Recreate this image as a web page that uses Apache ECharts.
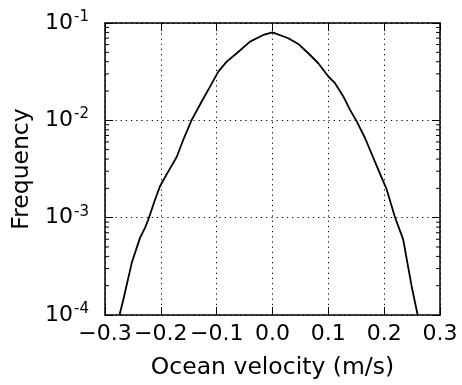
<!DOCTYPE html>
<html><head><meta charset="utf-8">
<script src="https://cdn.jsdelivr.net/npm/echarts@6/dist/echarts.min.js"></script>
<style>html,body{margin:0;padding:0;background:#fff}#c{width:462px;height:385px}</style>
</head><body><div id="c"></div>
<script>
const velocity = [-0.274, -0.267, -0.252, -0.2373, -0.2284, -0.2224, -0.2104, -0.2015, -0.1866, -0.1716, -0.1598, -0.1447, -0.1268, -0.1119, -0.0971, -0.082, -0.0641, -0.0403, -0.0165, 0.0, 0.0283, 0.0462, 0.0641, 0.082, 0.100, 0.112, 0.1268, 0.1389, 0.1508, 0.1657, 0.1866, 0.2045, 0.2194, 0.234, 0.249, 0.260];
const frequency = [1.0e-4, 1.45e-4, 3.45e-4, 6.2e-4, 7.87e-4, 9.57e-4, 1.53e-3, 2.1e-3, 2.99e-3, 4.2e-3, 6.32e-3, 1.01e-2, 1.56e-2, 2.22e-2, 3.17e-2, 4.01e-2, 4.89e-2, 6.43e-2, 7.53e-2, 8.0e-2, 6.97e-2, 6.09e-2, 4.89e-2, 3.86e-2, 2.82e-2, 2.41e-2, 1.76e-2, 1.28e-2, 9.75e-3, 6.58e-3, 3.4e-3, 1.95e-3, 1.01e-3, 5.98e-4, 2.0e-4, 1.0e-4];
const xTicks = [-0.3, -0.2, -0.1, 0.0, 0.1, 0.2, 0.3];
const yDecades = [1e-4, 1e-3, 1e-2, 1e-1];
const minorMult = [2, 3, 4, 5, 6, 7, 8, 9];
const minorTicks = [];
yDecades.slice(0, 3).forEach(d => minorMult.forEach(m => minorTicks.push(m * d)));

const FONT = 'DejaVu Sans';
const chart = echarts.init(document.getElementById('c'));
const gridLine = { show: true, lineStyle: { color: '#000', width: 1, type: [1.2, 4] } };
const axLine = { show: true, onZero: false, lineStyle: { color: '#000', width: 1.5 } };
const majTick = { show: true, inside: true, length: 8, lineStyle: { color: '#000', width: 1 } };

chart.setOption({
  animation: false,
  grid: { left: 105, right: 22, top: 23, bottom: 69 },
  xAxis: [{
    type: 'value', min: xTicks[0], max: xTicks[xTicks.length - 1], interval: 0.1,
    position: 'bottom',
    axisLine: axLine, axisTick: majTick, splitLine: gridLine,
    axisLabel: { color: '#000', fontFamily: FONT, fontSize: 22, margin: 8,
      formatter: v => (v < -1e-9 ? '\u2212' : '') + Math.abs(v).toFixed(1) },
    name: 'Ocean velocity (m/s)', nameLocation: 'middle', nameGap: 41,
    nameTextStyle: { color: '#000', fontFamily: FONT, fontSize: 23.5 }
  }, {
    type: 'value', min: xTicks[0], max: xTicks[xTicks.length - 1], interval: 0.1,
    position: 'top',
    axisLine: axLine, axisTick: majTick, splitLine: { show: false }, axisLabel: { show: false }
  }],
  yAxis: [{
    type: 'log', logBase: 10, min: yDecades[0], max: yDecades[yDecades.length - 1],
    position: 'left',
    axisLine: axLine, axisTick: majTick, splitLine: gridLine,
    axisLabel: { color: '#000', fontFamily: FONT, fontSize: 22, margin: 16,
      formatter: v => '{b|10}{s|' + Math.round(Math.log10(v)) + '}',
      rich: {
        b: { fontFamily: FONT, fontSize: 22, color: '#000' },
        s: { fontFamily: FONT, fontSize: 15, color: '#000', verticalAlign: 'bottom', padding: [0, 0, 12, 1] }
      } },
    name: 'Frequency', nameLocation: 'middle', nameGap: 66, nameRotate: 90,
    nameTextStyle: { color: '#000', fontFamily: FONT, fontSize: 23.5 }
  }, {
    type: 'log', logBase: 10, min: yDecades[0], max: yDecades[yDecades.length - 1],
    position: 'right',
    axisLine: axLine, axisTick: majTick, splitLine: { show: false }, axisLabel: { show: false }
  }],
  series: [{
    type: 'line', xAxisIndex: 0, yAxisIndex: 0,
    data: velocity.map((v, i) => [v, frequency[i]]),
    showSymbol: false, symbol: 'none', smooth: false,
    lineStyle: { color: '#000', width: 1.8 }, z: 5
  }, {
    type: 'custom', xAxisIndex: 0, yAxisIndex: 0,
    data: minorTicks.map(v => [xTicks[0], v]),
    silent: true, z: 6,
    renderItem: (params, api) => {
      const cs = params.coordSys;
      const y = api.coord([xTicks[0], api.value(1)])[1];
      const st = { stroke: '#000', lineWidth: 1 };
      return { type: 'group', children: [
        { type: 'line', shape: { x1: cs.x, y1: y, x2: cs.x + 4, y2: y }, style: st },
        { type: 'line', shape: { x1: cs.x + cs.width - 4, y1: y, x2: cs.x + cs.width, y2: y }, style: st }
      ] };
    }
  }]
});
</script></body></html>
